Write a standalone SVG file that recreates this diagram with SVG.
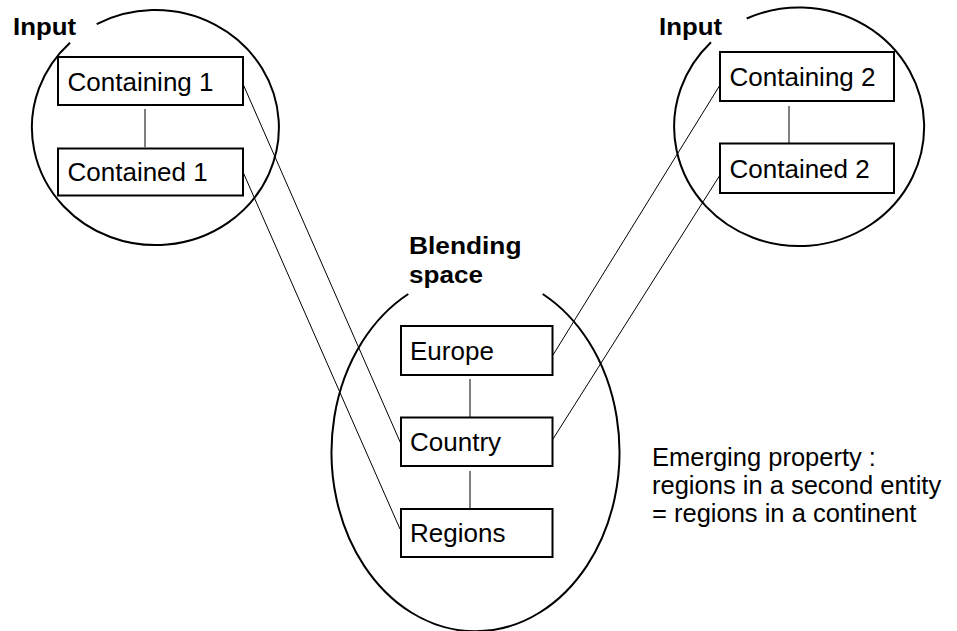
<svg xmlns="http://www.w3.org/2000/svg" width="957" height="631" viewBox="0 0 957 631">
<style>
.space{fill:none;stroke:#000;stroke-width:2}
.box{fill:#fff;stroke:#000;stroke-width:2}
.lbl{font-family:"Liberation Sans",Arial,sans-serif;font-size:26px;fill:#000}
.note{font-family:"Liberation Sans",Arial,sans-serif;font-size:25.5px;fill:#000}
.ttl{font-family:"Liberation Sans",Arial,sans-serif;font-size:23px;font-weight:bold;fill:#000}
.link{stroke:#000;stroke-width:1;fill:none}
</style>
<rect width="957" height="631" fill="#fff"/>
<g id="input1">
<path class="space" d="M 96.7 24.2 A 123.5 117.5 0 1 1 70 42.7"/>
<text class="ttl" x="13" y="34.5" textLength="63" lengthAdjust="spacingAndGlyphs">Input</text>
</g>
<g id="input2">
<path class="space" d="M 746.7 18.5 A 125 119.3 0 1 1 711 42.2"/>
<text class="ttl" x="659" y="35" textLength="63" lengthAdjust="spacingAndGlyphs">Input</text>
</g>
<g id="blend">
<path class="space" d="M 542.7 294 A 144 179 0 1 1 408.3 294"/>
<text class="ttl" x="409" y="253.5" textLength="112.5" lengthAdjust="spacingAndGlyphs">Blending</text>
<text class="ttl" x="409" y="282.5" textLength="74" lengthAdjust="spacingAndGlyphs">space</text>
</g>
<g id="connectors">
<line class="link" x1="145" y1="109" x2="145" y2="147"/>
<line class="link" x1="789" y1="106" x2="789" y2="143"/>
<line class="link" x1="470" y1="379" x2="470" y2="417"/>
<line class="link" x1="470" y1="471" x2="470" y2="509"/>
<line class="link" x1="243" y1="84" x2="401" y2="444"/>
<line class="link" x1="243" y1="172" x2="400" y2="529"/>
<line class="link" x1="720" y1="85" x2="553" y2="355"/>
<line class="link" x1="720" y1="175" x2="553" y2="439"/>
</g>
<g id="containing1">
<rect class="box" x="58" y="57" width="185" height="48"/>
<text class="lbl" x="67.5" y="90.5">Containing 1</text>
</g>
<g id="contained1">
<rect class="box" x="58" y="148.5" width="185" height="47"/>
<text class="lbl" x="67.5" y="180.5">Contained 1</text>
</g>
<g id="containing2">
<rect class="box" x="720" y="52" width="174" height="49"/>
<text class="lbl" x="729.5" y="86">Containing 2</text>
</g>
<g id="contained2">
<rect class="box" x="720" y="143.5" width="174" height="49.5"/>
<text class="lbl" x="729.5" y="177.5">Contained 2</text>
</g>
<g id="europe">
<rect class="box" x="401" y="326" width="151.5" height="49"/>
<text class="lbl" x="410" y="359.5">Europe</text>
</g>
<g id="country">
<rect class="box" x="401" y="417.5" width="151.5" height="48.5"/>
<text class="lbl" x="410" y="450.5">Country</text>
</g>
<g id="regions">
<rect class="box" x="401" y="509" width="151.5" height="48"/>
<text class="lbl" x="410" y="541.5">Regions</text>
</g>
<g id="note">
<text class="note" x="652" y="465.5">Emerging property :</text>
<text class="note" x="652" y="493.5">regions in a second entity</text>
<text class="note" x="652" y="521.5">= regions in a continent</text>
</g>
</svg>
